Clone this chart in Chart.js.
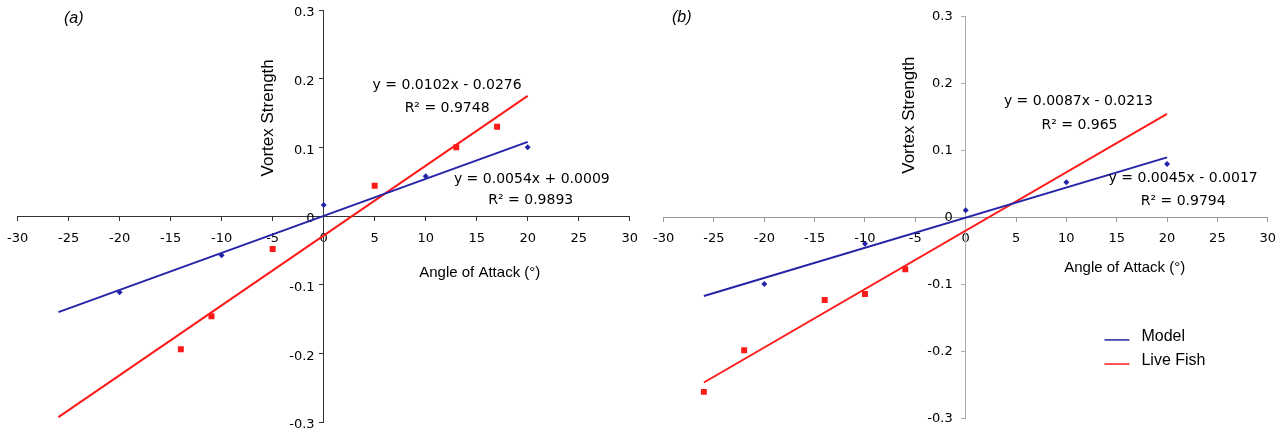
<!DOCTYPE html>
<html lang="en">
<head>
<meta charset="UTF-8">
<title>Vortex strength vs angle of attack</title>
<script src="https://cdn.jsdelivr.net/npm/chart.js"></script>
<style>
    body { margin: 0; background: #fff; overflow: hidden; }
    .panel { position: absolute; top: 0; height: 429px; }
    #panelA { left: -4px; width: 653px; }
    #panelB { left: 643px; width: 643px; }
</style>
</head>
<body>
<div class="panel" id="panelA"><canvas id="chartA"></canvas></div>
<div class="panel" id="panelB"><canvas id="chartB"></canvas></div>
<script>
// ---- panel (a) ----
const modelAngleA = [-20, -10, 0, 10, 20];
const modelStrengthA = [-0.111, -0.057, 0.016, 0.058, 0.100];
const fishAngleA = [-14, -11, -5, 5, 13, 17];
const fishStrengthA = [-0.194, -0.146, -0.048, 0.044, 0.100, 0.130];
// trend line end points
const modelTrendXA = [-26, 20];
const modelTrendYA = [-0.140, 0.108];
const fishTrendXA = [-26, 20];
const fishTrendYA = [-0.293, 0.175];
const eqTextA = ['y = 0.0054x + 0.0009', 'R\u00B2 = 0.9893', 'y = 0.0102x - 0.0276', 'R\u00B2 = 0.9748'];

// ---- panel (b) ----
const modelAngleB = [-20, -10, 0, 10, 20];
const modelStrengthB = [-0.100, -0.040, 0.010, 0.052, 0.079];
const fishAngleB = [-26, -22, -14, -10, -6];
const fishStrengthB = [-0.261, -0.199, -0.124, -0.115, -0.078];
const modelTrendXB = [-26, 20];
const modelTrendYB = [-0.118, 0.089];
const fishTrendXB = [-26, 20];
const fishTrendYB = [-0.247, 0.154];
const eqTextB = ['y = 0.0045x - 0.0017', 'R\u00B2 = 0.9794', 'y = 0.0087x - 0.0213', 'R\u00B2 = 0.965'];

// axes
const xMin = -30, xMax = 30, xStep = 5;
const yMin = -0.3, yMax = 0.3, yStep = 0.1;
const seriesNames = ['Model', 'Live Fish'];

const BLUE = '#2424a8';
const RED = '#ff1a1a';
const TICK_FONT = "'DejaVu Sans', Verdana, sans-serif";
const TITLE_FONT = "'Liberation Sans', Arial, sans-serif";

function pts(xs, ys) {
    return xs.map((x, i) => ({ x: x, y: ys[i] }));
}

// text drawn at data positions
const textPlugin = {
    id: 'texts',
    afterDraw(chart) {
        const items = chart.options.plugins.texts.items || [];
        const ctx = chart.ctx;
        const sx = chart.scales.x, sy = chart.scales.y;
        items.forEach(it => {
            const px = sx.getPixelForValue(it.x);
            const py = sy.getPixelForValue(it.y);
            ctx.save();
            ctx.translate(px, py);
            if (it.rotate) ctx.rotate(it.rotate);
            ctx.font = it.font;
            ctx.fillStyle = '#000';
            ctx.textAlign = it.align || 'center';
            ctx.textBaseline = 'middle';
            if (it.line) {
                ctx.strokeStyle = it.line;
                ctx.lineWidth = 1.5;
                ctx.beginPath();
                ctx.moveTo(-37, 3);
                ctx.lineTo(-12, 3);
                ctx.stroke();
            }
            ctx.fillText(it.text, 0, 0);
            ctx.restore();
        });
    }
};

function buildChart(id, d) {
    return new Chart(document.getElementById(id), {
        type: 'scatter',
        data: {
            datasets: [
                {
                    label: seriesNames[0] + ' trend',
                    type: 'line',
                    data: pts(d.mtx, d.mty),
                    borderColor: BLUE,
                    borderWidth: 2,
                    pointRadius: 0,
                    showLine: true
                },
                {
                    label: seriesNames[1] + ' trend',
                    type: 'line',
                    data: pts(d.ftx, d.fty),
                    borderColor: RED,
                    borderWidth: 2,
                    pointRadius: 0,
                    showLine: true
                },
                {
                    label: seriesNames[0],
                    data: pts(d.mx, d.my),
                    pointStyle: 'rectRot',
                    pointRadius: 3,
                    backgroundColor: BLUE,
                    borderColor: BLUE,
                    borderWidth: 0
                },
                {
                    label: seriesNames[1],
                    data: pts(d.fx, d.fy),
                    pointStyle: 'rect',
                    pointRadius: 4.2,
                    backgroundColor: RED,
                    borderColor: RED,
                    borderWidth: 0
                }
            ]
        },
        options: {
            responsive: true,
            maintainAspectRatio: false,
            animation: false,
            layout: { padding: d.padding },
            scales: {
                x: {
                    type: 'linear',
                    min: xMin, max: xMax,
                    position: { y: 0 },
                    ticks: {
                        stepSize: xStep,
                        color: '#000',
                        padding: d.xPad,
                        maxRotation: 0,
                        font: { family: TICK_FONT, size: 13 }
                    },
                    grid: { drawOnChartArea: false, tickLength: 4, color: d.xAxisColor },
                    border: { color: d.xAxisColor, width: 1 }
                },
                y: {
                    type: 'linear',
                    min: yMin, max: yMax,
                    position: { x: 0 },
                    ticks: {
                        stepSize: yStep,
                        color: '#000',
                        padding: 0,
                        labelOffset: d.yLabelOffset,
                        font: { family: TICK_FONT, size: 13, lineHeight: 1 },
                        // labels sit against the axis line, so keep a gap with spaces
                        callback: v => String(Math.round(v * 10) / 10) + d.yGap
                    },
                    grid: { drawOnChartArea: false, tickLength: 4, color: d.yAxisColor },
                    border: { color: d.yAxisColor, width: 1 }
                }
            },
            plugins: {
                legend: { display: false },
                tooltip: { enabled: false },
                texts: { items: d.texts }
            }
        },
        plugins: [textPlugin]
    });
}

const eqFont = "14px " + TICK_FONT;
const titleFont = "15px " + TITLE_FONT;
const vortexFont = "17px " + TITLE_FONT;

buildChart('chartA', {
    mx: modelAngleA, my: modelStrengthA, fx: fishAngleA, fy: fishStrengthA,
    mtx: modelTrendXA, mty: modelTrendYA, ftx: fishTrendXA, fty: fishTrendYA,
    padding: { left: 20, right: 19, top: 10, bottom: 7 },
    xAxisColor: '#333', yAxisColor: '#333',
    xPad: 11, yLabelOffset: 3,
    yGap: '\u2002\u2009',
    texts: [
        { text: '(a)', x: -24.5, y: 0.288, font: "italic 16px " + TITLE_FONT },
        { text: 'Vortex Strength', x: -5.4, y: 0.143, font: vortexFont, rotate: -Math.PI / 2 },
        { text: eqTextA[2], x: 12.1, y: 0.190, font: eqFont },
        { text: eqTextA[3], x: 12.1, y: 0.157, font: eqFont },
        { text: eqTextA[0], x: 20.4, y: 0.054, font: eqFont },
        { text: eqTextA[1], x: 20.3, y: 0.023, font: eqFont },
        { text: 'Angle of Attack (\u00B0)', x: 15.3, y: -0.083, font: titleFont }
    ]
});

buildChart('chartB', {
    mx: modelAngleB, my: modelStrengthB, fx: fishAngleB, fy: fishStrengthB,
    mtx: modelTrendXB, mty: modelTrendYB, ftx: fishTrendXB, fty: fishTrendYB,
    padding: { left: 20, right: 18, top: 16, bottom: 11 },
    xAxisColor: '#999', yAxisColor: '#aaa',
    xPad: 10, yLabelOffset: 1,
    yGap: '\u2002\u2002',
    texts: [
        { text: '(b)', x: -28.2, y: 0.297, font: "italic 16px " + TITLE_FONT },
        { text: 'Vortex Strength', x: -5.6, y: 0.152, font: vortexFont, rotate: -Math.PI / 2 },
        { text: eqTextB[2], x: 11.2, y: 0.173, font: eqFont },
        { text: eqTextB[3], x: 11.3, y: 0.137, font: eqFont },
        { text: eqTextB[0], x: 21.6, y: 0.057, font: eqFont },
        { text: eqTextB[1], x: 21.6, y: 0.024, font: eqFont },
        { text: 'Angle of Attack (\u00B0)', x: 15.8, y: -0.076, font: titleFont },
        { text: seriesNames[0], x: 17.46, y: -0.179, font: "16px " + TITLE_FONT, align: 'left', line: BLUE },
        { text: seriesNames[1], x: 17.46, y: -0.215, font: "16px " + TITLE_FONT, align: 'left', line: RED }
    ]
});
</script>
</body>
</html>
